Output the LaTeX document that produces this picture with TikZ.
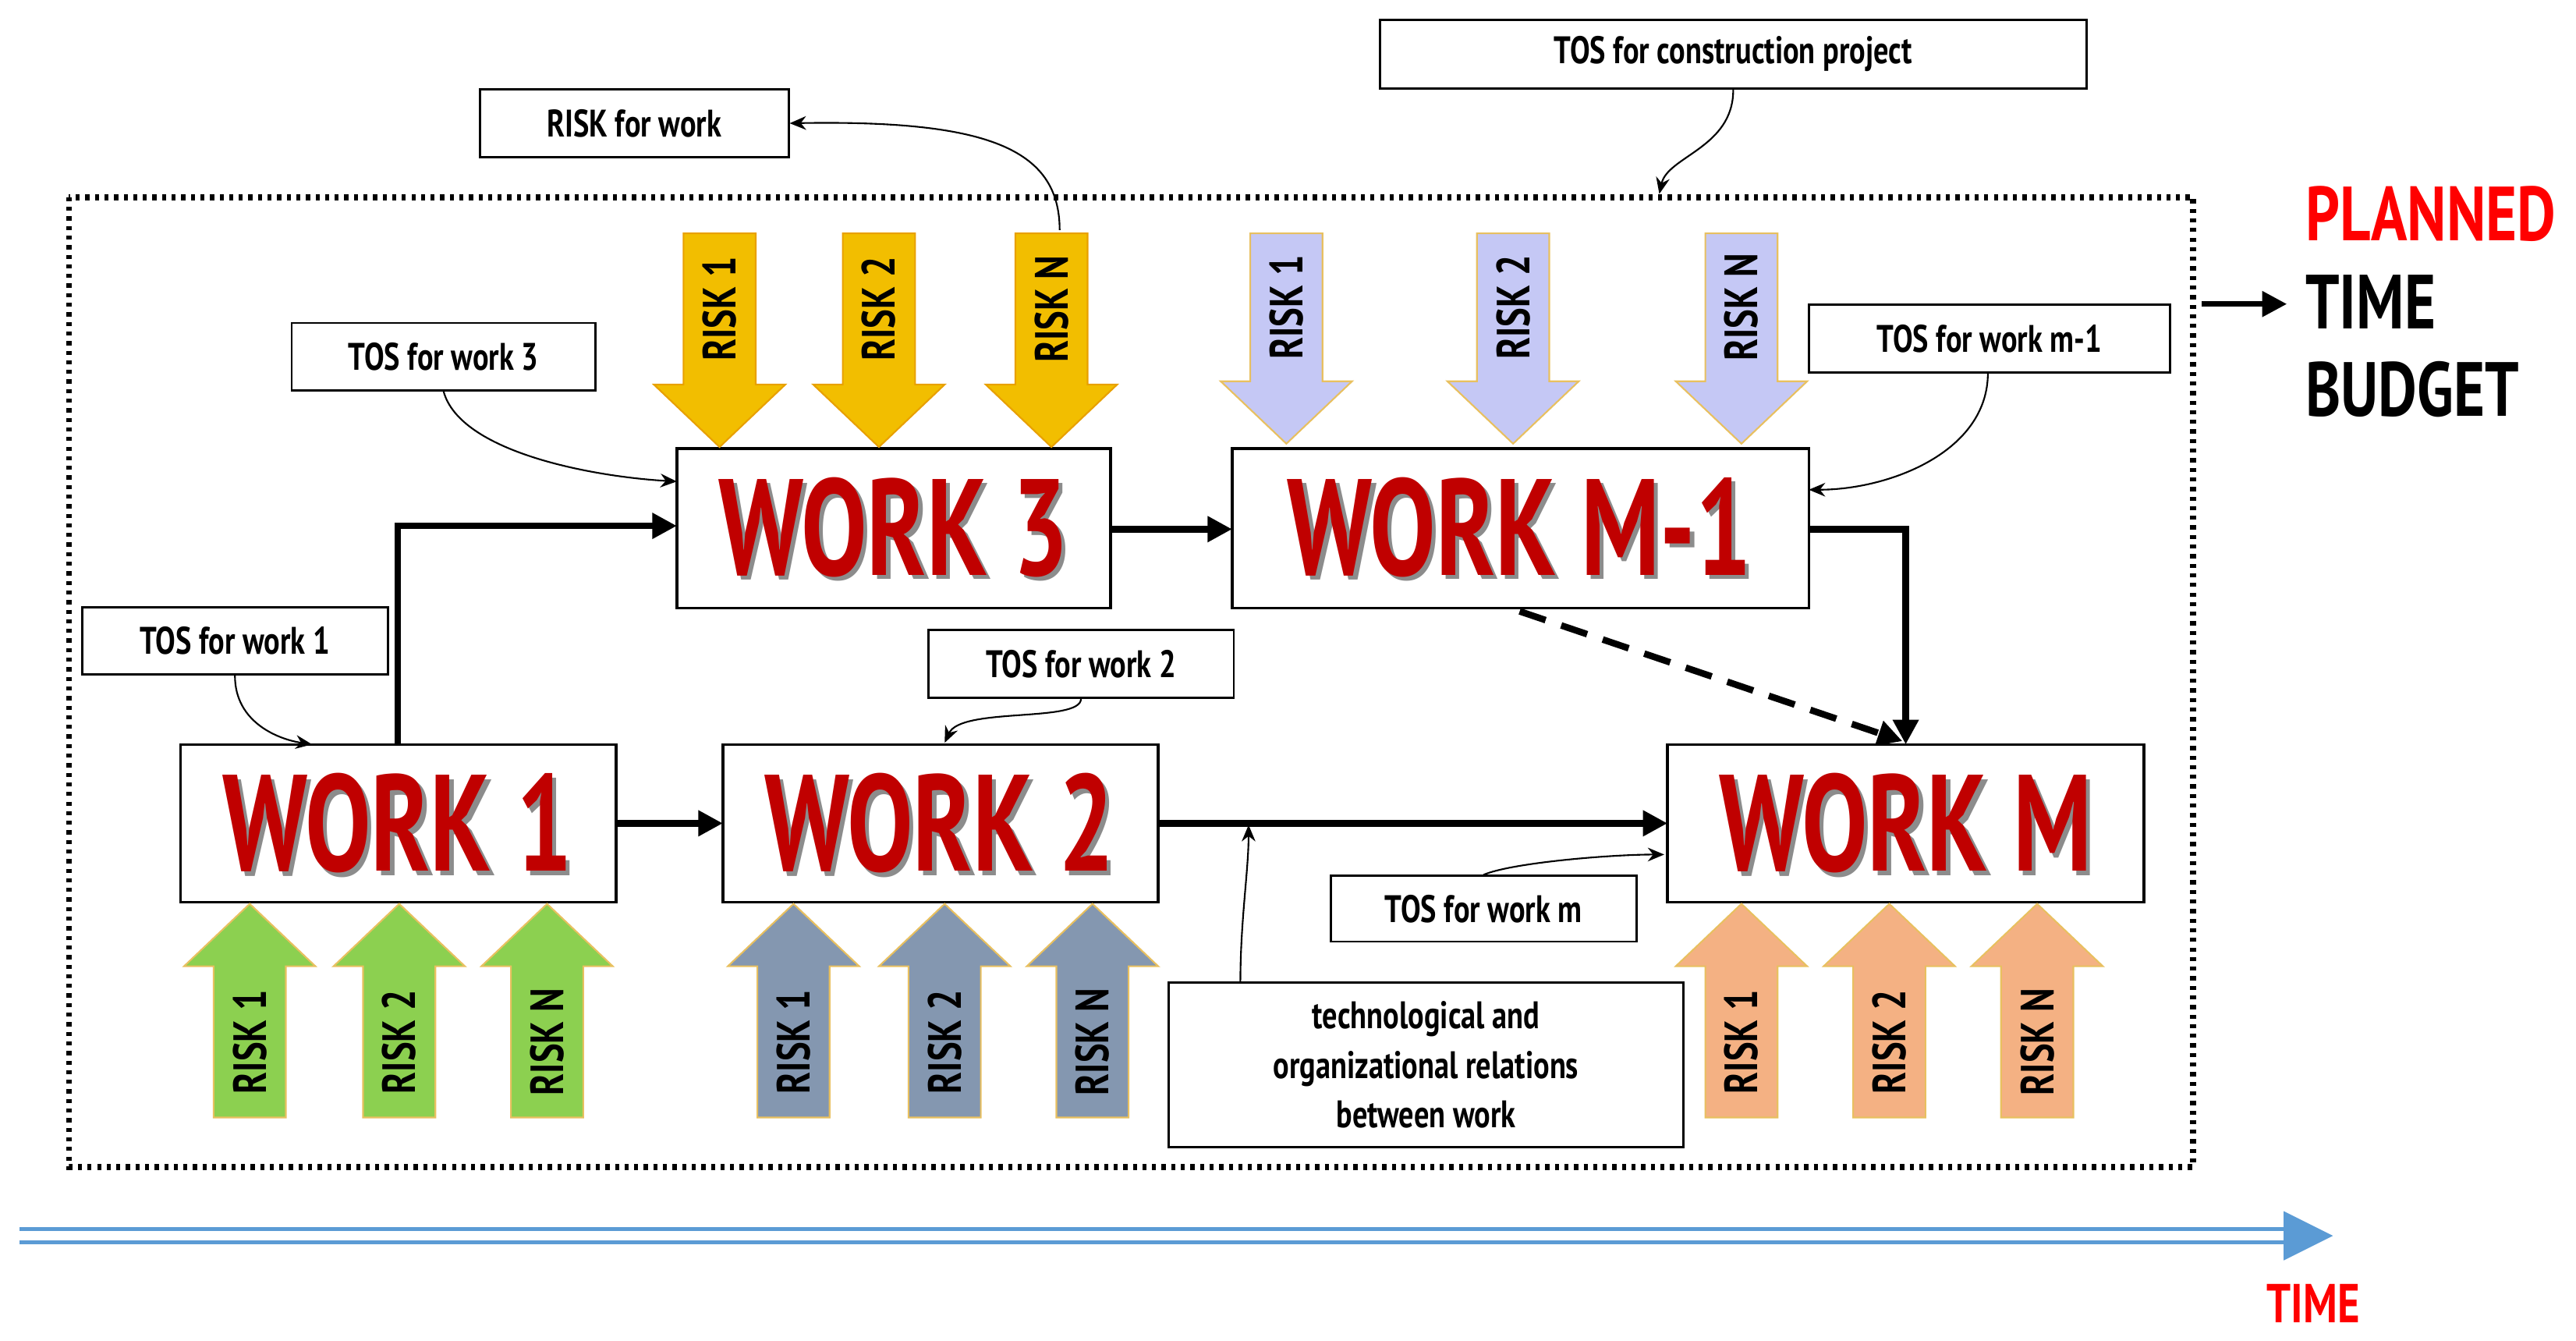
\documentclass[tikz,border=0pt]{standalone}
\usepackage{fontspec}
\setmainfont{PT Sans}
\usetikzlibrary{arrows.meta}
\definecolor{wred}{HTML}{C00000}
\definecolor{yel}{HTML}{F2BE00}\definecolor{yeld}{HTML}{E8A000}
\definecolor{blu}{HTML}{C5C8F5}\definecolor{blud}{HTML}{E8C060}
\definecolor{grn}{HTML}{8CD050}\definecolor{grnd}{HTML}{E8C060}
\definecolor{gry}{HTML}{8497B0}\definecolor{gryd}{HTML}{E8C060}
\definecolor{org}{HTML}{F4B183}\definecolor{orgd}{HTML}{E8C060}
\definecolor{tblue}{HTML}{5B9BD5}
\newcommand{\cnd}[1]{\scalebox{0.78}[1]{\bfseries #1}}
\newcommand{\wcnd}[1]{\scalebox{0.72}[1]{\bfseries #1}}
\newcommand{\rdown}[6]{% name x y1 y2 fill draw
 \draw[fill=#5,draw=#6,line width=0.6pt] (#2-22,#3)--(#2+22,#3)--(#2+22,#4-38)--(#2+40,#4-38)--(#2,#4)--(#2-40,#4-38)--(#2-22,#4-38)--cycle;
 \node[risk] (#1) at (#2,{(#3+#4-38)/2}) {};}
\newcommand{\rup}[6]{% name x ytip ybot fill draw
 \draw[fill=#5,draw=#6,line width=0.6pt] (#2-22,#4)--(#2+22,#4)--(#2+22,#3+38)--(#2+40,#3+38)--(#2,#3)--(#2-40,#3+38)--(#2-22,#3+38)--cycle;
 \node[risk] (#1) at (#2,{(#4+#3+38)/2}) {};}
\tikzset{
 risk/.style={rotate=90,font=\bfseries\fontsize{17}{17}\selectfont,inner sep=0pt},
 lbl/.style={draw,line width=0.8pt,fill=white,font=\bfseries\fontsize{14}{16}\selectfont,inner sep=0pt},
 wbox/.style={draw,line width=1pt,fill=white},
 flow/.style={line width=2.4pt,-{Triangle[length=9pt,width=9pt]}},
 thin/.style={line width=0.6pt,-{Stealth[length=6pt,width=5pt]}},
}
\newcommand{\work}[3]{% name center text
 \node[font=\bfseries\fontsize{50}{50}\selectfont,text=black!45] at ([xshift=1.5pt,yshift=-1.5pt]#2) {\wcnd{#3}};
 \node[font=\bfseries\fontsize{50}{50}\selectfont,text=wred] at (#2) {\wcnd{#3}};}
\begin{document}
\begin{tikzpicture}[x=0.021065cm,y=-0.021065cm]
\useasboundingbox (0,0) rectangle (1568,816);
\draw[line width=2.2pt,dash pattern=on 1.5pt off 2pt] (42,120) rectangle (1335,710);
% boxes
\draw[wbox] (412,273) rectangle (676,370); \coordinate (w3) at (544,321);
\draw[wbox] (750,273) rectangle (1101,370); \coordinate (wm1) at (925,321);
\draw[wbox] (110,453) rectangle (375,549); \coordinate (w1) at (242,501);
\draw[wbox] (440,453) rectangle (705,549); \coordinate (w2) at (572,501);
\draw[wbox] (1015,453) rectangle (1305,549); \coordinate (wm) at (1160,501);
\work{a}{w3}{WORK 3}\work{b}{wm1}{WORK M-1}\work{c}{w1}{WORK 1}\work{d}{w2}{WORK 2}\work{e}{wm}{WORK M}
% risk arrows
\rdown{y1}{438}{142}{272}{yel}{yeld}\rdown{y2}{535}{142}{272}{yel}{yeld}\rdown{y3}{640}{142}{272}{yel}{yeld}
\rdown{b1}{783}{142}{270}{blu}{blud}\rdown{b2}{921}{142}{270}{blu}{blud}\rdown{b3}{1060}{142}{270}{blu}{blud}
\rup{g1}{152}{550}{680}{grn}{grnd}\rup{g2}{243}{550}{680}{grn}{grnd}\rup{g3}{333}{550}{680}{grn}{grnd}
\rup{s1}{483}{550}{680}{gry}{gryd}\rup{s2}{575}{550}{680}{gry}{gryd}\rup{s3}{665}{550}{680}{gry}{gryd}
\rup{o1}{1060}{550}{680}{org}{orgd}\rup{o2}{1150}{550}{680}{org}{orgd}\rup{o3}{1240}{550}{680}{org}{orgd}
\foreach \n in {y1,b1,g1,s1,o1}{\node[risk] at (\n) {\cnd{RISK 1}};}
\foreach \n in {y2,b2,g2,s2,o2}{\node[risk] at (\n) {\cnd{RISK 2}};}
\foreach \n in {y3,b3,g3,s3,o3}{\node[risk] at (\n) {\cnd{RISK N}};}
% flows
\draw[flow] (242,453)--(242,320)--(412,320);
\draw[flow] (375,501)--(440,501);
\draw[flow] (676,322)--(750,322);
\draw[flow] (1101,322)--(1160,322)--(1160,453);
\draw[flow,dash pattern=on 10pt off 6pt] (925,372)--(1158,451);
\draw[flow] (705,501)--(1015,501);
% labels
\node[lbl,minimum width=430*0.021065cm,minimum height=42*0.021065cm] (tc) at (1055,33) {\cnd{TOS for construction project}};
\node[lbl,minimum width=188*0.021065cm,minimum height=41*0.021065cm] (rw) at (386,75) {\cnd{RISK for work}};
\node[lbl,minimum width=185*0.021065cm,minimum height=41*0.021065cm] (t3) at (270,217) {\cnd{TOS for work 3}};
\node[lbl,minimum width=220*0.021065cm,minimum height=41*0.021065cm] (tm1) at (1211,206) {\cnd{TOS for work m-1}};
\node[lbl,minimum width=186*0.021065cm,minimum height=41*0.021065cm] (t1) at (143,390) {\cnd{TOS for work 1}};
\node[lbl,minimum width=186*0.021065cm,minimum height=41*0.021065cm] (t2) at (658,404) {\cnd{TOS for work 2}};
\node[lbl,minimum width=186*0.021065cm,minimum height=40*0.021065cm] (tm) at (903,553) {\cnd{TOS for work m}};
\node[lbl,minimum width=313*0.021065cm,minimum height=100*0.021065cm,align=center,font=\bfseries\fontsize{14}{18}\selectfont] (tr) at (868,648) {\cnd{technological and}\\\cnd{organizational relations}\\\cnd{between work}};
\coordinate (rs) at (645,140);
\draw[thin] (rs) .. controls (645,90) and (600,73) .. (rw.east);
\draw[thin] (tc.south) .. controls (1055,90) and (1015,95) .. (1010,118);
\draw[thin] (t3.south) .. controls (280,275) and (360,290) .. (412,293);
\draw[thin] (1210,227) .. controls (1210,275) and (1150,298) .. (1101,298);
\draw[thin] (t1.south) .. controls (143,440) and (170,450) .. (190,453);
\draw[thin] (t2.south) .. controls (658,440) and (585,430) .. (575,452);
\draw[thin] (tm.north) .. controls (920,525) and (980,520) .. (1013,520);
\draw[thin] (755,598) .. controls (755,560) and (760,530) .. (760,502);
% right side
\coordinate (pa) at (1340,185); \coordinate (pb) at (1392,185);
\draw[flow,line width=2pt] (pa)--(pb);
\node[anchor=north west,align=left,font=\bfseries\fontsize{28}{32}\selectfont,inner sep=0pt] (pt) at (1403,113) {\cnd{\textcolor{red}{PLANNED}}\\\cnd{TIME}\\\cnd{BUDGET}};
% time
\coordinate (ta) at (12,752); \coordinate (tb) at (1392,752);
\draw[tblue,line width=1.5pt] (12,748)--(1392,748) (12,756)--(1392,756);
\fill[tblue] (1390,737)--(1420,752)--(1390,767)--cycle;
\node[font=\bfseries\fontsize{20}{20}\selectfont,text=red] (tt) at (1408,793) {\cnd{TIME}};
\end{tikzpicture}
\end{document}
